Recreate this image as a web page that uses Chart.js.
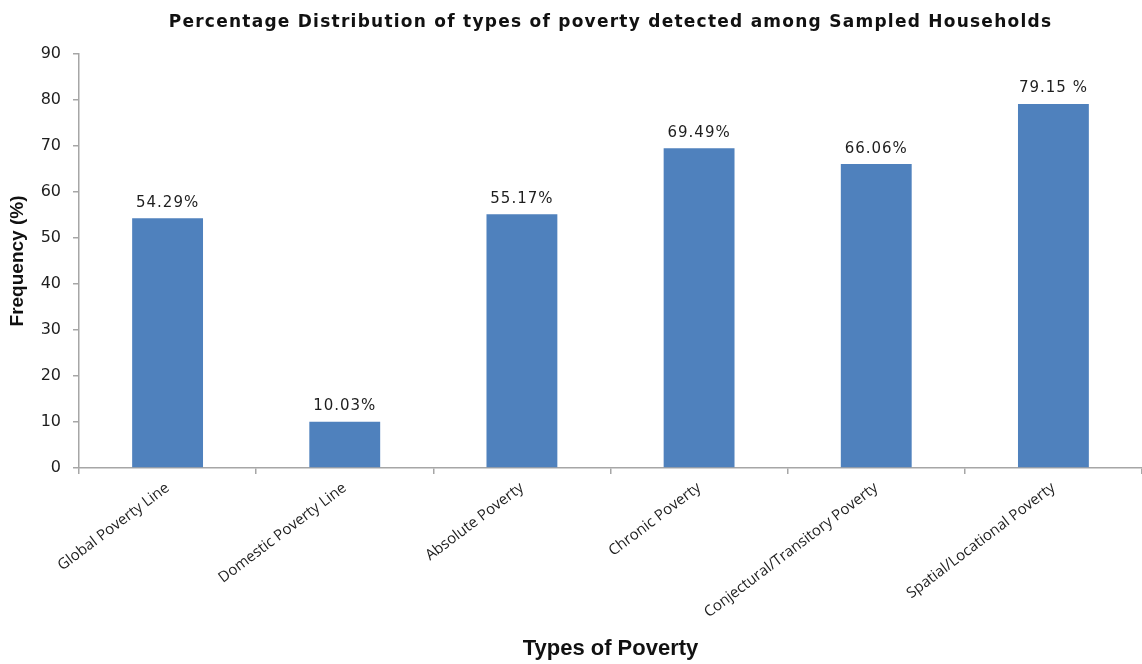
<!DOCTYPE html>
<html>
<head>
<meta charset="utf-8">
<script src="https://cdn.jsdelivr.net/npm/chart.js@4/dist/chart.umd.min.js"></script>
<style>
  html, body { margin: 0; padding: 0; background: #fff; }
  #wrap { width: 1142px; height: 664px; }
</style>
</head>
<body>
<div id="wrap"><canvas id="bar-chart" width="1142" height="664"></canvas></div>
<script>
// chart data
var categories = [
    "Global Poverty Line",
    "Domestic Poverty Line",
    "Absolute Poverty",
    "Chronic Poverty",
    "Conjectural/Transitory Poverty",
    "Spatial/Locational Poverty",
];
var frequency = [54.29, 10.03, 55.17, 69.49, 66.06, 79.15];
var valueLabels = ["54.29%", "10.03%", "55.17%", "69.49%", "66.06%", "79.15 %"];
var yTicks = [0, 10, 20, 30, 40, 50, 60, 70, 80, 90];

var chartTitle = "Percentage Distribution of types of poverty detected among Sampled Households";
var axisColor = "#a6a6a6";
var textColor = "#1e1e1e";

// title centred over the plot area + value labels above bars
var labelsPlugin = {
    id: "labelsPlugin",
    afterDraw: function (chart) {
        var ctx = chart.ctx;
        var area = chart.chartArea;
        ctx.save();
        ctx.fillStyle = "#111";
        ctx.font = "bold 17px 'DejaVu Sans'";
        ctx.letterSpacing = "1.25px";
        ctx.textAlign = "center";
        ctx.textBaseline = "middle";
        ctx.fillText(chartTitle, (area.left + area.right) / 2, 23);

        ctx.font = "15px 'DejaVu Sans'";
        ctx.letterSpacing = "1px";
        ctx.fillStyle = textColor;
        ctx.textBaseline = "bottom";
        var meta = chart.getDatasetMeta(0);
        meta.data.forEach(function (bar, i) {
            ctx.fillText(valueLabels[i], bar.x, bar.y - 8);
        });
        ctx.restore();
    }
};

new Chart(document.getElementById("bar-chart"), {
    type: "bar",
    data: {
        labels: categories,
        datasets: [
            {
                data: frequency,
                backgroundColor: "#4f81bd",
                borderWidth: 0,
                categoryPercentage: 0.8,
                barPercentage: 0.5,
            },
        ],
    },
    options: {
        responsive: false,
        animation: false,
        layout: { padding: { top: 54, right: 0, left: 0, bottom: 0 } },
        plugins: {
            legend: { display: false },
            title: { display: false },
            tooltip: { enabled: false },
        },
        scales: {
            x: {
                afterFit: function (scale) { scale.height = 196; },
                grid: {
                    offset: true,
                    drawOnChartArea: false,
                    color: axisColor,
                    tickLength: 6,
                    lineWidth: 1.5,
                },
                border: { color: axisColor, width: 1.5 },
                ticks: {
                    minRotation: 37,
                    maxRotation: 37,
                    padding: 5,
                    color: textColor,
                    font: { family: "'Open Sans'", size: 15 },
                },
                title: {
                    display: true,
                    text: "Types of Poverty",
                    color: "#111",
                    font: { family: "'Liberation Sans'", size: 22, weight: "bold" },
                    padding: { top: 0, bottom: 2 },
                },
            },
            y: {
                min: 0,
                max: 90,
                afterFit: function (scale) { scale.width = 79; },
                afterBuildTicks: function (scale) {
                    scale.ticks = yTicks.map(function (v) { return { value: v }; });
                },
                grid: {
                    drawOnChartArea: false,
                    color: axisColor,
                    tickLength: 6,
                    lineWidth: 1.5,
                },
                border: { color: axisColor, width: 1.5 },
                ticks: {
                    padding: 12,
                    color: textColor,
                    font: { family: "'DejaVu Sans'", size: 16 },
                },
                title: {
                    display: true,
                    text: "Frequency (%)",
                    color: "#111",
                    font: { family: "'Liberation Sans'", size: 19, weight: "bold" },
                    padding: { top: 6, bottom: 6 },
                },
            },
        },
    },
    plugins: [labelsPlugin],
});
</script>
</body>
</html>
